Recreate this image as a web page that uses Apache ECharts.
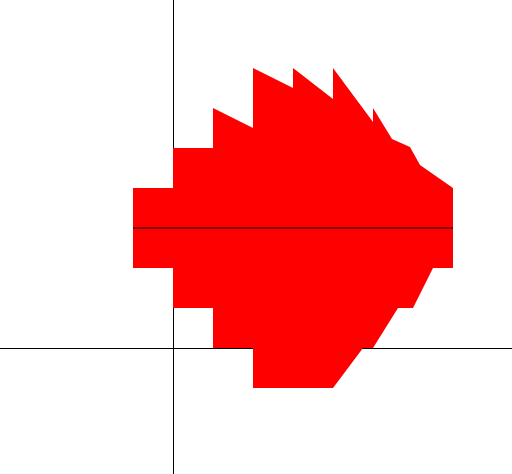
<!DOCTYPE html>
<html>
<head>
<meta charset="utf-8">
<script src="https://cdn.jsdelivr.net/npm/echarts@6/dist/echarts.min.js"></script>
<style>html,body{margin:0;padding:0;background:#fff}#c{width:512px;height:474px}</style>
</head>
<body>
<div id="c"></div>
<script>
// Outline of the filled shape (data coordinates), traced clockwise from the left
var outlineX = [-1, -1, 0, 0, 1, 1, 2, 2, 3, 3, 4, 4, 5, 5, 5.475, 5.925, 6.175, 7, 7, 6.5, 6, 5.625, 5, 4.75, 4, 2, 2, 1, 1, 0, 0, -1];
var outlineY = [2, 4, 4, 5, 5, 6, 5.5, 7, 6.5, 7, 6.225, 7, 5.65, 6, 5.225, 5.025, 4.575, 4, 2, 2, 1, 1, 0, 0, -1, -1, 0, 0, 1, 1, 2, 2];
// Black reference line
var lineX = [-1, 7];
var lineY = [3, 3];

var chart = echarts.init(document.getElementById('c'), null, {renderer: 'canvas'});
var hidden = {
  axisLabel: {show: false}, axisTick: {show: false}, splitLine: {show: false},
  axisLine: {show: true, onZero: true, lineStyle: {color: '#000', width: 1}}
};
chart.setOption({
  animation: false,
  grid: {left: 0, right: 0, top: 0, bottom: 0, containLabel: false},
  xAxis: Object.assign({type: 'value', min: -4.325, max: 8.475}, hidden),
  yAxis: Object.assign({type: 'value', min: -3.15, max: 8.7}, hidden),
  series: [
    {
      type: 'custom',
      z: 2,
      data: [0],
      renderItem: function (params, api) {
        var pts = outlineX.map(function (x, i) { return api.coord([x, outlineY[i]]); });
        return {type: 'polygon', shape: {points: pts}, style: {fill: '#ff0000', stroke: null}};
      }
    },
    {
      type: 'line',
      z: 5,
      symbol: 'none',
      data: lineX.map(function (x, i) { return [x, lineY[i]]; }),
      lineStyle: {color: '#000', width: 1}
    }
  ]
});
</script>
</body>
</html>
